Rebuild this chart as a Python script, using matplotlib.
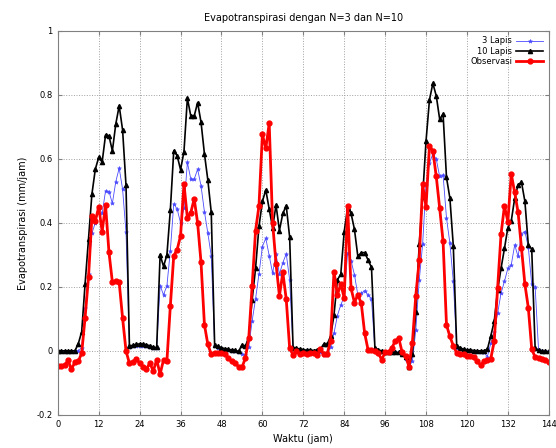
import numpy as np
import matplotlib
matplotlib.use('Agg')
import matplotlib.pyplot as plt

# hourly values, hours 0..144
jam = np.arange(0, 145)

lapis3 = [0.0, 0.0, 0.0, 0.0, 0.0, 0.0, 0.0, 0.01, 0.133, 0.24,
          0.368, 0.40, 0.446, 0.43, 0.50, 0.498, 0.461, 0.529, 0.571, 0.505,
          0.37, 0.012, 0.014, 0.016, 0.016, 0.016, 0.015, 0.013, 0.01, 0.01,
          0.204, 0.175, 0.204, 0.313, 0.46, 0.443, 0.40, 0.446, 0.589, 0.537,
          0.536, 0.568, 0.516, 0.435, 0.368, 0.297, 0.014, 0.01, 0.006, 0.004,
          0.002, 0.0, -0.002, -0.005, -0.01, -0.012, 0.013, 0.094, 0.163, 0.24,
          0.326, 0.352, 0.297, 0.243, 0.303, 0.24, 0.276, 0.303, 0.222, 0.005,
          0.004, 0.003, 0.002, 0.0, 0.0, 0.0, -0.002, -0.005, -0.012, -0.012,
          0.013, 0.055, 0.11, 0.144, 0.168, 0.307, 0.282, 0.238, 0.175, 0.18,
          0.188, 0.175, 0.163, 0.003, 0.0, -0.002, -0.004, -0.005, -0.005, -0.005,
          -0.005, -0.008, -0.026, -0.039, -0.033, 0.066, 0.22, 0.334, 0.519, 0.586,
          0.616, 0.599, 0.545, 0.55, 0.415, 0.336, 0.217, 0.01, 0.006, 0.003,
          0.002, 0.0, 0.0, -0.002, -0.003, -0.005, -0.018, 0.024, 0.06, 0.118,
          0.18, 0.217, 0.258, 0.269, 0.331, 0.295, 0.366, 0.373, 0.324, 0.208,
          0.201, 0.003, 0.0, -0.002, -0.002]

lapis10 = [0.0, 0.0, 0.0, 0.0, 0.0, 0.0, 0.022, 0.06, 0.21, 0.35,
           0.49, 0.568, 0.605, 0.59, 0.675, 0.672, 0.625, 0.709, 0.766, 0.69,
           0.517, 0.016, 0.017, 0.02, 0.022, 0.021, 0.019, 0.016, 0.011, 0.011,
           0.30, 0.264, 0.30, 0.44, 0.625, 0.61, 0.566, 0.623, 0.79, 0.734,
           0.734, 0.776, 0.715, 0.616, 0.534, 0.433, 0.017, 0.014, 0.01, 0.007,
           0.005, 0.003, 0.002, -0.002, 0.018, 0.014, 0.043, 0.16, 0.258, 0.389,
           0.467, 0.503, 0.443, 0.385, 0.456, 0.376, 0.43, 0.453, 0.355, 0.01,
           0.008, 0.006, 0.004, 0.002, 0.003, 0.001, 0.003, 0.006, 0.021, 0.021,
           0.045, 0.112, 0.222, 0.24, 0.373, 0.448, 0.43, 0.38, 0.295, 0.307,
           0.307, 0.284, 0.261, 0.01, 0.003, 0.0, -0.003, -0.004, -0.005, -0.005,
           -0.005, -0.009, -0.018, -0.049, -0.01, 0.121, 0.333, 0.482, 0.656, 0.784,
           0.836, 0.797, 0.724, 0.74, 0.542, 0.477, 0.328, 0.014, 0.01, 0.005,
           0.003, 0.003, 0.001, 0.0, 0.0, 0.0, 0.005, 0.047, 0.092, 0.19,
           0.258, 0.32, 0.385, 0.406, 0.477, 0.519, 0.527, 0.467, 0.331, 0.318,
           0.008, 0.003, -0.002, -0.002, -0.002]

observasi = [-0.047, -0.047, -0.045, -0.03, -0.057, -0.036, -0.033, -0.007, 0.104, 0.23,
             0.42, 0.406, 0.45, 0.373, 0.456, 0.308, 0.215, 0.217, 0.214, 0.102,
             0.0, -0.039, -0.036, -0.025, -0.039, -0.049, -0.056, -0.039, -0.063, -0.028,
             -0.073, -0.028, -0.031, 0.14, 0.297, 0.316, 0.36, 0.522, 0.415, 0.432,
             0.475, 0.40, 0.277, 0.082, 0.02, -0.01, -0.007, -0.007, -0.007, -0.01,
             -0.023, -0.033, -0.039, -0.049, -0.052, -0.023, 0.04, 0.203, 0.376, 0.453,
             0.677, 0.633, 0.711, 0.40, 0.272, 0.172, 0.245, 0.161, 0.008, -0.0125,
             -0.002, -0.01, -0.007, -0.01, -0.007, -0.007, -0.0125, 0.005, -0.009, -0.009,
             0.031, 0.248, 0.175, 0.209, 0.165, 0.453, 0.196, 0.151, 0.175, 0.149,
             0.055, 0.003, 0.003, 0.0, -0.007, -0.028, -0.004, -0.004, 0.01, 0.031,
             0.04, -0.005, -0.015, -0.049, 0.026, 0.173, 0.283, 0.52, 0.45, 0.64,
             0.625, 0.545, 0.446, 0.342, 0.081, 0.045, 0.016, -0.007, -0.01, -0.01,
             -0.015, -0.015, -0.02, -0.033, -0.044, -0.033, -0.03, -0.024, 0.03, 0.196,
             0.365, 0.453, 0.404, 0.553, 0.495, 0.433, 0.32, 0.208, 0.135, 0.006,
             -0.02, -0.022, -0.025, -0.03, -0.035]

labels = ['3 Lapis', '10 Lapis', 'Observasi']
xticks = np.arange(0, 145, 12)
yticks = np.arange(-0.2, 1.01, 0.2)

fig = plt.figure(figsize=(5.56, 4.48), dpi=100)
ax = fig.add_axes([0.104, 0.074, 0.883, 0.857])

l1, = ax.plot(jam, lapis3, color='#4a4aff', lw=0.6, marker='*', ms=3, mew=0.4)
l2, = ax.plot(jam, lapis10, color='black', lw=1.2, marker='^', ms=3)
l3, = ax.plot(jam, observasi, color='#ff0000', lw=2.0, marker='o', ms=3.5)

ax.set_xlim(0, 144)
ax.set_ylim(-0.2, 1.0)
ax.set_xticks(xticks)
ax.set_yticks(yticks)
ax.set_yticklabels(['-0.2', '0', '0.2', '0.4', '0.6', '0.8', '1'])
ax.grid(True, color='#a0a0a0', ls=':', lw=0.7)
ax.tick_params(direction='in', length=3, top=True, right=True, labelsize=6,
               color='#808080', pad=4)
for s in ax.spines.values():
    s.set_color('#808080')
    s.set_linewidth(0.8)

ax.set_title('Evapotranspirasi dengan N=3 dan N=10', fontsize=7, pad=7)
ax.set_xlabel('Waktu (jam)', fontsize=7, labelpad=3)
ax.set_ylabel('Evapotranspirasi (mm/jam)', fontsize=7, labelpad=6)

# gnuplot style key: samples on the right, labels right-aligned to their left
leg = ax.legend([l1, l2, l3], ['', '', ''], loc='upper right', frameon=False,
                fontsize=6, handlelength=3.2, labelspacing=0.15,
                borderaxespad=0.3, handletextpad=0.0, borderpad=0.4)
fig.canvas.draw()
r = fig.canvas.get_renderer()
for ln, lab in zip(leg.get_lines(), labels):
    bb = ln.get_window_extent(r)
    xs = ln.get_xdata()
    x0 = leg.get_lines()[0].get_transform().transform((min(xs), 0))[0]
    yc = (bb.y0 + bb.y1) / 2.0
    fig.text((x0 - 4) / fig.bbox.width, yc / fig.bbox.height, lab,
             ha='right', va='center', fontsize=6)

fig.savefig('out.png', dpi=100)
